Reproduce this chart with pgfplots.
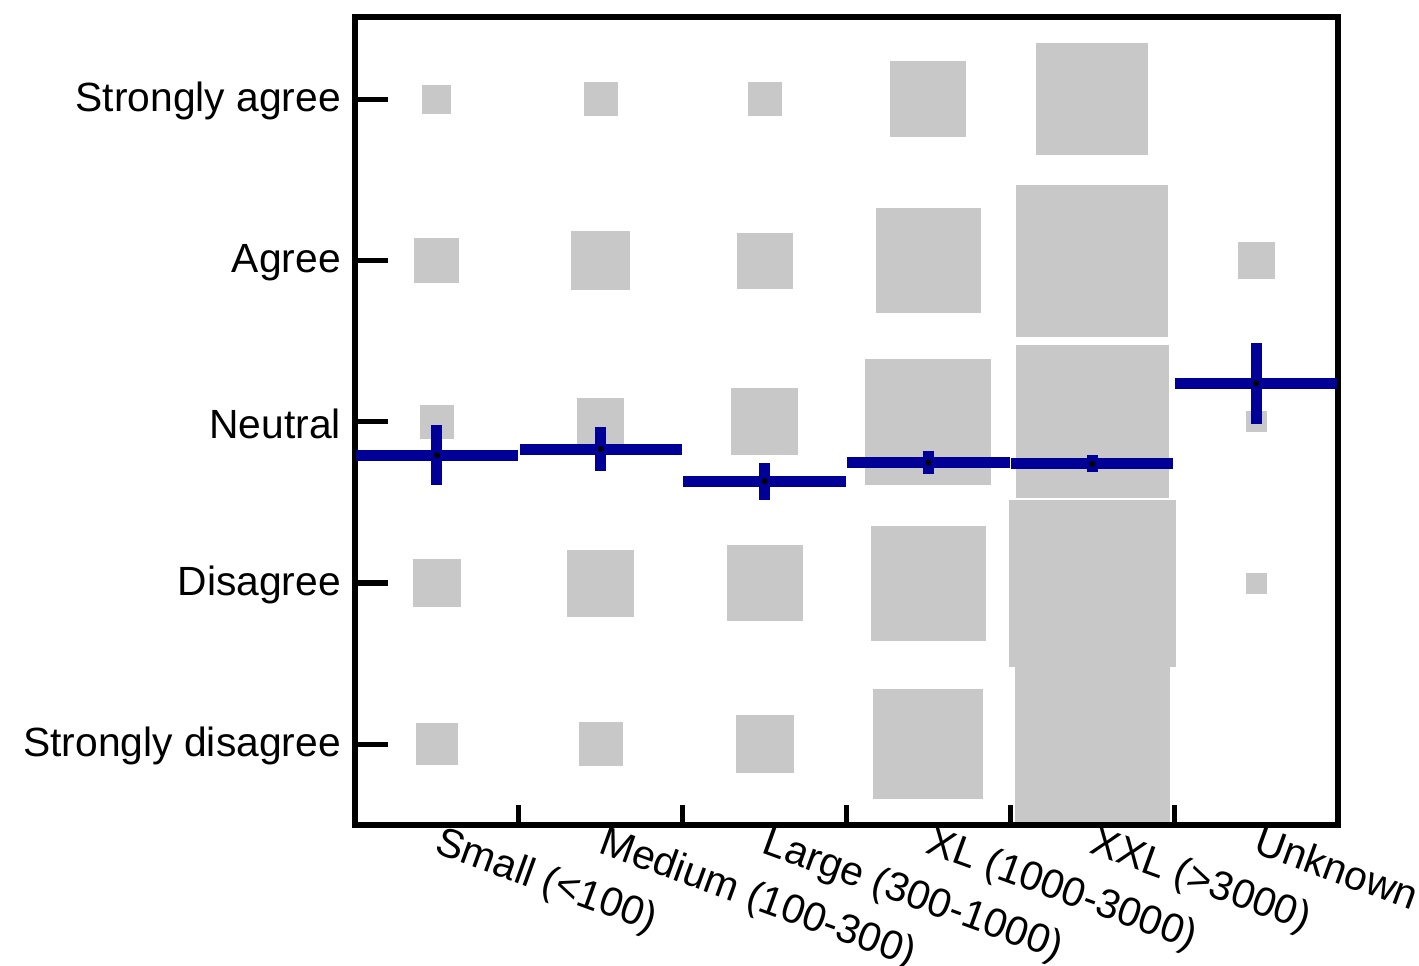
\documentclass[border=0pt]{standalone}
\usepackage{pgfplots}
\pgfplotsset{compat=1.18}
\usepackage{pgfplotstable}
\usepackage{fontspec}
\setmainfont{Liberation Sans}
\definecolor{sqgray}{RGB}{200,200,200}
\definecolor{meanblue}{RGB}{0,0,150}

% square sizes: side length in px of the reference (1 px = 0.25 pt)
\pgfplotstableread{
x y s
0.5 5 28
0.5 4 44
0.5 3 33
0.5 2 47
0.5 1 41
1.5 5 33
1.5 4 58
1.5 3 46
1.5 2 66
1.5 1 43
2.5 5 33
2.5 4 55
2.5 3 66
2.5 2 75
2.5 1 57
3.5 5 75
3.5 4 104
3.5 3 125
3.5 2 114
3.5 1 109
4.5 5 111
4.5 4 151
4.5 3 152
4.5 2 166
4.5 1 154
5.5 4 36
5.5 3 20
5.5 2 20
}\squares

\pgfplotstableread{
x m xe ye
0.5 2.792 0.495 0.186
1.5 2.831 0.495 0.136
2.5 2.632 0.495 0.114
3.5 2.747 0.495 0.071
4.5 2.739 0.495 0.053
5.5 3.239 0.495 0.250
}\means

\begin{document}
\begin{tikzpicture}
\begin{axis}[
  scale only axis, width=245.75pt, height=202pt,
  xmin=0, xmax=6, ymin=0.5, ymax=5.51,
  axis line style={line width=1.3pt},
  tick align=inside,
  xtick pos=bottom, ytick pos=left,
  major tick length=8.25pt,
  x tick style={black, line width=1.3pt, /pgfplots/major tick length=5pt},
  y tick style={black, line width=1.3pt},
  xtick={1,2,3,4,5}, xticklabels={,,,,},
  ytick={1,2,3,4,5},
  yticklabels={Strongly disagree, Disagree, Neutral, Agree, Strongly agree},
  tick label style={font=\fontsize{10.2}{12}\selectfont},
  yticklabel style={yshift=-0.5pt},
  extra x ticks={0.5,1.5,2.5,3.5,4.5,5.5},
  extra x tick labels={Small (<100), Medium (100-300), Large (300-1000), XL (1000-3000), XXL (>3000), Unknown},
  extra x tick style={tick style={draw=none},
    xticklabel style={rotate=-20, anchor=north west, inner sep=0pt, xshift=1.3pt, yshift=0.8pt}},
  clip marker paths=true,
]
\addplot[scatter, only marks, mark=square*,
  scatter/use mapped color={draw=sqgray, fill=sqgray},
  mark options={line width=0pt},
  visualization depends on={0.125*\thisrow{s} \as \hs},
  scatter/@pre marker code/.append style={/tikz/mark size=\hs pt}]
  table[x=x, y=y] {\squares};
\addplot[only marks, mark=*, mark size=0.55pt, mark options={black, fill=black},
  error bars/.cd, x dir=both, x explicit, y dir=both, y explicit,
  error mark=none, error bar style={line width=2.75pt, meanblue}]
  table[x=x, y=m, x error=xe, y error=ye] {\means};
\end{axis}
\pgfresetboundingbox
\path[use as bounding box] (-88.75pt,-35pt) rectangle (266pt,206.25pt);
\end{tikzpicture}
\end{document}
